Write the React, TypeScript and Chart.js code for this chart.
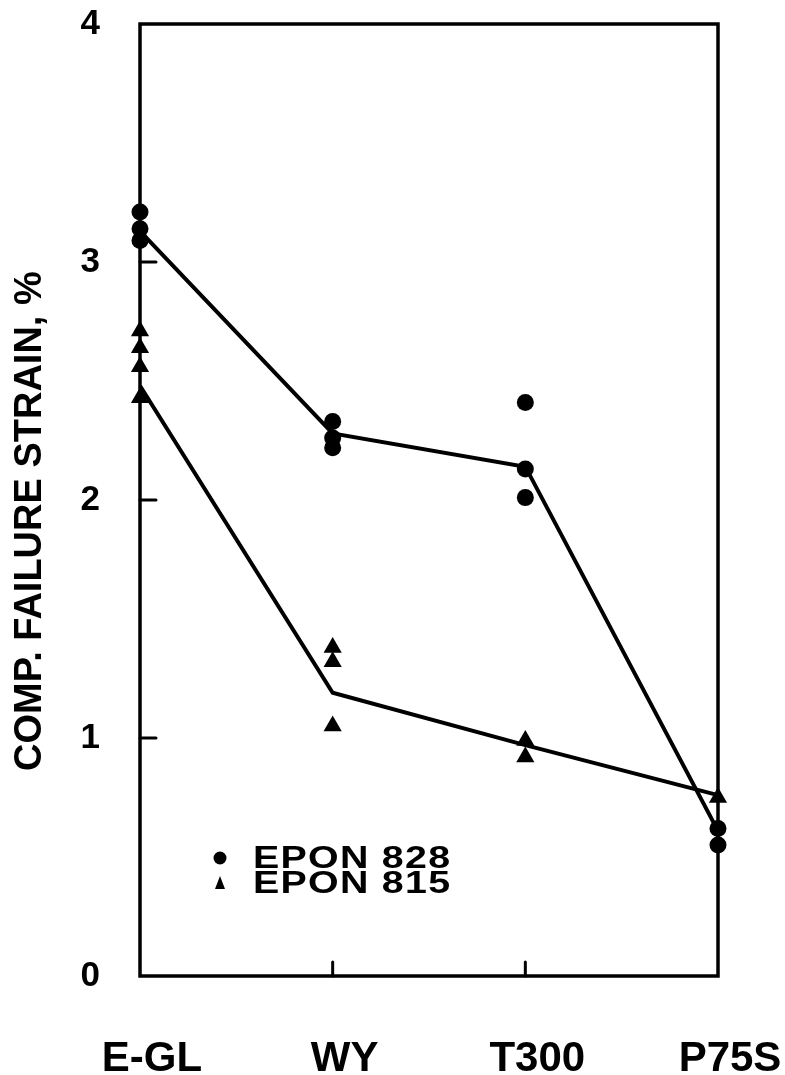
import React, { useEffect, useRef } from "react";
import { Chart, registerables } from "chart.js";

Chart.register(...registerables);

const categories = ["E-GL", "WY", "T300", "P75S"];
const yTickValues = [1, 2, 3];
const innerXTicks = [1, 2];

const epon828Cat = [0, 0, 0, 1, 1, 1, 2, 2, 2, 3, 3];
const epon828Val = [3.21, 3.14, 3.09, 2.33, 2.26, 2.22, 2.41, 2.13, 2.01, 0.62, 0.55];

const epon815Cat = [0, 0, 0, 0, 1, 1, 1, 2, 2, 3];
const epon815Val = [2.71, 2.64, 2.56, 2.43, 1.38, 1.32, 1.05, 0.99, 0.92, 0.75];

const fit828 = [3.13, 2.28, 2.14, 0.61];
const fit815 = [2.48, 1.19, 0.97, 0.76];

const legendLabels = ["EPON 828", "EPON 815"];
const yTitle = "COMP. FAILURE STRAIN, %    ";

const FONT = "'Liberation Sans', Arial, Helvetica, sans-serif";

const frame = {
  id: "frame",
  afterDraw(chart: any) {
    const { ctx, chartArea } = chart;
    const { left, right, top, bottom } = chartArea;
    const xs = chart.scales.x;
    const ys = chart.scales.y;
    ctx.save();
    ctx.strokeStyle = "#000";
    ctx.lineWidth = 3.5;
    ctx.lineCap = "square";
    ctx.strokeRect(left, top, right - left, bottom - top);
    ctx.lineWidth = 3;
    ctx.lineCap = "round";
    yTickValues.forEach((v) => {
      const y = ys.getPixelForValue(v);
      ctx.beginPath();
      ctx.moveTo(left, y);
      ctx.lineTo(left + 16, y);
      ctx.stroke();
    });
    innerXTicks.forEach((v) => {
      const x = xs.getPixelForValue(v);
      ctx.beginPath();
      ctx.moveTo(x, bottom);
      ctx.lineTo(x, bottom - 14);
      ctx.stroke();
    });
    // legend
    const lx = left + 80;
    const ly1 = bottom - 118;
    const ly2 = bottom - 93;
    ctx.fillStyle = "#000";
    ctx.beginPath();
    ctx.arc(lx, ly1, 6.5, 0, Math.PI * 2);
    ctx.fill();
    ctx.beginPath();
    ctx.moveTo(lx, ly2 - 7);
    ctx.lineTo(lx + 5, ly2 + 6);
    ctx.lineTo(lx - 5, ly2 + 6);
    ctx.closePath();
    ctx.fill();
    ctx.font = `bold 31px ${FONT}`;
    (ctx as any).letterSpacing = "1px";
    ctx.textBaseline = "middle";
    ctx.textAlign = "left";
    [ly1, ly2].forEach((ly, i) => {
      ctx.save();
      ctx.translate(lx + 33, ly + 1);
      ctx.scale(1.27, 1);
      ctx.fillText(legendLabels[i], 0, 0);
      ctx.restore();
    });
    ctx.restore();
  },
};

export default function App() {
  const ref = useRef<HTMLCanvasElement>(null);
  useEffect(() => {
    if (!ref.current) return;
    const pts = (cats: number[], vals: number[]) => cats.map((c, i) => ({ x: c, y: vals[i] }));
    const chart = new Chart(ref.current, {
      type: "scatter",
      data: {
        datasets: [
          {
            label: "fit 828",
            data: fit828.map((v, i) => ({ x: i, y: v })),
            showLine: true,
            borderColor: "#000",
            borderWidth: 4,
            pointRadius: 0,
            clip: false,
          } as any,
          {
            label: "fit 815",
            data: fit815.map((v, i) => ({ x: i, y: v })),
            showLine: true,
            borderColor: "#000",
            borderWidth: 4,
            pointRadius: 0,
            clip: false,
          },
          {
            label: legendLabels[0],
            data: pts(epon828Cat, epon828Val),
            pointStyle: "circle",
            pointRadius: 8.5,
            backgroundColor: "#000",
            borderColor: "#000",
            borderWidth: 0,
            clip: false,
          },
          {
            label: legendLabels[1],
            data: pts(epon815Cat, epon815Val),
            pointStyle: "triangle",
            pointRadius: 10.5,
            backgroundColor: "#000",
            borderColor: "#000",
            borderWidth: 0,
            clip: false,
          },
        ],
      },
      options: {
        animation: false,
        responsive: false,
        layout: { padding: { top: 24, right: 67, left: 0, bottom: 0 } },
        plugins: { legend: { display: false }, tooltip: { enabled: false } },
        scales: {
          x: {
            type: "linear",
            min: 0,
            max: 3,
            grid: { display: false, drawTicks: false },
            border: { display: false },
            afterFit: (s: any) => {
              s.height = 99;
              s.paddingLeft = 0;
              s.paddingRight = 0;
              s.paddingTop = 0;
              s.paddingBottom = 0;
            },
            ticks: {
              stepSize: 1,
              padding: 58,
              labelOffset: 12,
              maxRotation: 0,
              minRotation: 0,
              color: "#000",
              font: { family: FONT, size: 42, weight: "bold" },
              callback: (v: any) => categories[v as number] ?? "",
            },
          },
          y: {
            min: 0,
            max: 4,
            grid: { display: false, drawTicks: false },
            border: { display: false },
            afterFit: (s: any) => {
              s.width = 140;
              s.paddingLeft = 0;
              s.paddingRight = 0;
              s.paddingTop = 0;
              s.paddingBottom = 0;
            },
            title: {
              display: true,
              text: yTitle,
              color: "#000",
              padding: { top: 8, bottom: 0 },
              font: { family: FONT, size: 38, weight: "bold" },
            },
            ticks: {
              stepSize: 1,
              padding: 40,
              color: "#000",
              font: { family: FONT, size: 35, weight: "bold" },
            },
          },
        },
      },
      plugins: [frame],
    });
    return () => chart.destroy();
  }, []);
  return (
    <canvas
      ref={ref}
      width={785}
      height={1075}
      style={{ display: "block", position: "absolute", left: 0, top: 0 }}
    />
  );
}
